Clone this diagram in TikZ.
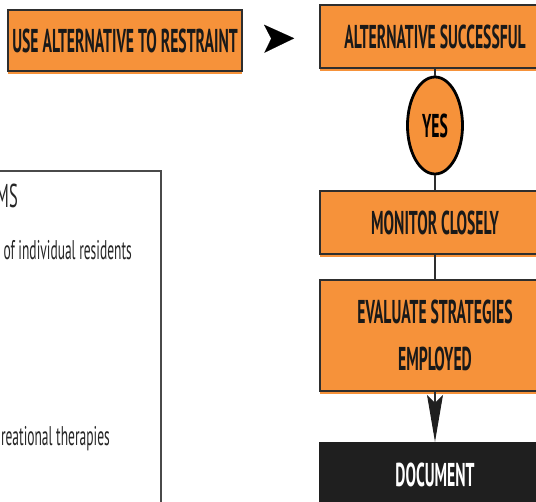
\documentclass[tikz,border=0pt]{standalone}
\usepackage{fontspec}
\newfontfamily\condfont[FakeStretch=0.5]{PT Sans}
\newfontfamily\condbold[FakeStretch=0.475]{PT Sans}
\usetikzlibrary{arrows.meta,shapes.geometric,shadows}
\definecolor{boxorange}{HTML}{F6923A}
\definecolor{edgegray}{HTML}{2E2E2E}
\definecolor{framegray}{HTML}{4A4A4A}
\begin{document}
\begin{tikzpicture}[x=1pt,y=-1pt,
  boxtext/.style={font=\condbold\bfseries\fontsize{33}{47}\selectfont},
  stepbox/.style={rectangle, fill=boxorange, draw=edgegray, line width=1.6pt,
    text=black!90, boxtext, align=center, inner sep=0pt,
    general shadow={fill=boxorange, shadow xshift=0pt, shadow yshift=-2.6pt}},
  yesoval/.style={ellipse, fill=boxorange, draw=black, line width=2.8pt,
    boxtext, inner sep=0pt, minimum width=55pt, minimum height=97pt},
  docbox/.style={rectangle, fill=black!88, draw=black!88, text=white, boxtext,
    inner sep=0pt},
  link/.style={draw=edgegray, line width=1.1pt},
  bodytext/.style={font=\condfont\fontsize{27}{32}\selectfont, text=black!85,
    inner sep=0pt},
]
\useasboundingbox (0,0) rectangle (536,502);

% side panel with its list of measures
\draw[framegray, line width=1.2pt] (-10,171) rectangle (161,520);
\node[bodytext, font=\condfont\fontsize{33}{38}\selectfont, anchor=base east] (mshead) at (18,208) {MS};
\node[bodytext, anchor=base east] (itemone) at (132,260) {of individual residents};
\node[bodytext, anchor=base east] (itemtwo) at (110,446) {reational therapies};

% flow of steps
\node[stepbox, minimum width=234pt, minimum height=61pt] (usealt) at (125,40.5) {USE ALTERNATIVE TO RESTRAINT};
\node[stepbox, minimum width=230pt, minimum height=63pt] (success) at (435,36.5) {ALTERNATIVE SUCCESSFUL};
\node[yesoval] (yes) at (435,125.5) {YES};
\node[stepbox, minimum width=230pt, minimum height=63pt] (monitor) at (435,222.5) {MONITOR CLOSELY};
\node[stepbox, minimum width=230pt, minimum height=111pt] (evaluate) at (435,335.5) {EVALUATE STRATEGIES\\EMPLOYED};
\node[docbox, minimum width=232pt, minimum height=65pt] (document) at (435,474.5) {DOCUMENT};

% connectors
\draw[draw=white, line width=0.1pt,
  -{Stealth[color=black, length=30pt, width=28pt, inset=7pt]},
  shorten <=23pt, shorten >=25pt] (usealt) -- (success);
\draw[link] (success) -- (yes);
\draw[link] (yes) -- (monitor);
\draw[link] (monitor) -- (evaluate);
\draw[link, -{Stealth[color=black!88, length=47pt, width=16pt, inset=8pt]}] (evaluate) -- (document);
\end{tikzpicture}
\end{document}
